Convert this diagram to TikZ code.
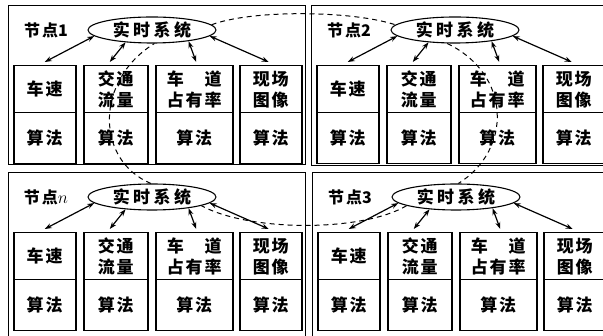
\documentclass[tikz,border=0pt]{standalone}
\usepackage{fontspec}
\setmainfont{Noto Sans CJK SC}
\usetikzlibrary{shapes.geometric,arrows.meta}
\newcommand\cjkgap{\hspace{2pt}}
\newcommand\cjkwide{\hspace{3.5pt}}
\tikzset{
  panelbox/.style={draw, line width=1.2pt, inner sep=0pt, anchor=north west},
  upbox/.style={draw, line width=1.5pt, minimum height=47pt, inner sep=0pt,
    anchor=north west, font=\fontsize{17}{21}\selectfont\bfseries, align=center},
  lowbox/.style={draw, line width=1.5pt, minimum height=51pt, inner sep=0pt,
    anchor=north west, font=\fontsize{17}{21}\selectfont\bfseries, align=center},
  rtsys/.style={ellipse, draw, line width=1.1pt, minimum width=128pt,
    minimum height=26pt, inner sep=0pt, font=\fontsize{17}{20}\selectfont\bfseries},
  link/.style={{Stealth[length=7pt,width=5pt]}-{Stealth[length=7pt,width=5pt]}, line width=1.2pt},
  ring/.style={dash pattern=on 5pt off 4pt, line width=1pt},
  tag/.style={font=\fontsize{16}{18}\selectfont\bfseries, inner sep=0pt}
}
% #1 name, #2 x, #3 y, #4 width, #5 height, #6 label
\newcommand\drawpanel[6]{%
  \begin{scope}[shift={(#2,#3)}]
    \node[panelbox, minimum width=#4pt, minimum height=#5pt] (#1) at (0,0) {};
    \node[tag] (#1t) at (38,25) {#6};
    \node[rtsys] (#1e) at (144,25) {实\cjkwide 时\cjkwide 系\cjkwide 统};
    \node[upbox, minimum width=62pt] (#1a1) at (5,60) {车\cjkgap 速};
    \node[upbox, minimum width=64pt] (#1a2) at (75,60) {交\cjkgap 通\\流\cjkgap 量};
    \node[upbox, minimum width=77pt] (#1a3) at (147,60) {车\hspace{21pt}道\\占\cjkgap 有\cjkgap 率};
    \node[upbox, minimum width=62pt] (#1a4) at (231,60) {现\cjkgap 场\\图\cjkgap 像};
    \node[lowbox, minimum width=62pt] (#1b1) at (5,107) {算\cjkgap 法};
    \node[lowbox, minimum width=64pt] (#1b2) at (75,107) {算\cjkgap 法};
    \node[lowbox, minimum width=77pt] (#1b3) at (147,107) {算\cjkgap 法};
    \node[lowbox, minimum width=62pt] (#1b4) at (231,107) {算\cjkgap 法};
    \draw[link] (#1e.186) -- ([yshift=3pt]#1a1.north);
    \draw[link] (#1e.205) -- ([yshift=3pt,xshift=-6pt]#1a2.north);
    \draw[link] (#1e.343) -- ([yshift=3pt,xshift=2pt]#1a3.north);
    \draw[link] (#1e.354) -- ([yshift=3pt,xshift=-2pt]#1a4.north);
  \end{scope}}
\begin{document}
\begin{tikzpicture}[x=1pt,y=-1pt]
  \useasboundingbox[fill=white] (0,0) rectangle (603,336);
  \drawpanel{pa}{8}{5}{297}{159}{节\cjkgap 点1}
  \drawpanel{pb}{311}{5}{292}{160}{节\cjkgap 点2}
  \drawpanel{pn}{8}{172}{297}{166}{节\cjkgap 点$n$}
  \drawpanel{pc}{312}{172}{291}{166}{节\cjkgap 点3}
  \draw[ring] (pae.5) .. controls (250,10) and (350,10) .. (pbe.175);
  \draw[ring] (pbe.240) .. controls (512,75) and (512,150) .. (pce.80);
  \draw[ring] (pce.190) .. controls (362,232) and (250,232) .. (pne.350);
  \draw[ring] (pne.95) .. controls (95,160) and (95,80) .. (pae.280);
\end{tikzpicture}
\end{document}
